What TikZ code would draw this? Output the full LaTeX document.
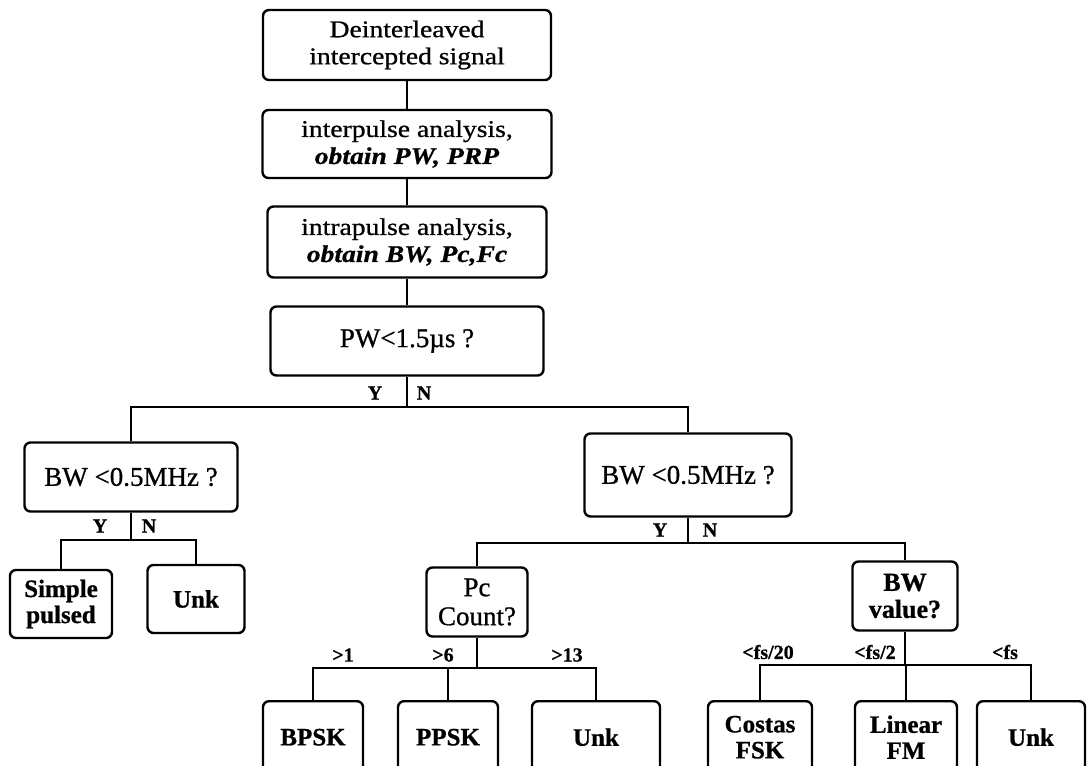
\documentclass[tikz,border=0pt]{standalone}
\usepackage{fontspec}
\setmainfont{Liberation Serif}[FakeBold=0.8]
\newfontfamily\wideserif[FakeStretch=1.15,FakeBold=0.8]{Liberation Serif}

\tikzset{
  box/.style={draw=black, line width=2.4pt, rounded corners=6pt, align=center, inner sep=2pt},
  stepnode/.style={box, font=\wideserif\fontsize{24}{27}\selectfont},
  testnode/.style={box, font=\fontsize{27}{29}\selectfont},
  leafnode/.style={box, font=\bfseries\fontsize{25}{26}\selectfont},
  wire/.style={line width=2.4pt},
  lab/.style={font=\bfseries\fontsize{20}{22}\selectfont, inner sep=0pt},
}

\begin{document}
\begin{tikzpicture}[x=1pt,y=-1pt]
    \clip (0,0) rectangle (1091,765);
    \fill[white] (0,0) rectangle (1091,765);

    % main chain
    \node[stepnode, minimum width=288pt, minimum height=70pt] (sig) at (407,45) {Deinterleaved\\intercepted signal};
    \node[stepnode, minimum width=289pt, minimum height=68pt] (inter) at (407,144) {interpulse analysis,\\\textbf{\textit{obtain PW, PRP}}};
    \node[stepnode, minimum width=279pt, minimum height=71pt] (intra) at (407,242) {intrapulse analysis,\\\textbf{\textit{obtain BW, Pc,Fc}}};
    \node[testnode, minimum width=273pt, minimum height=69pt] (pw) at (407,341) {PW<1.5µs ?};

    % second level
    \node[testnode, minimum width=213pt, minimum height=69pt] (bwl) at (131,477) {BW <0.5MHz ?};
    \node[testnode, minimum width=207pt, minimum height=83pt] (bwr) at (688,475) {BW <0.5MHz ?};

    \node[leafnode, minimum width=102pt, minimum height=68pt] (simple) at (61,604) {Simple\\pulsed};
    \node[leafnode, minimum width=97pt, minimum height=68pt] (unkl) at (196,599) {Unk};
    \node[testnode, minimum width=101pt, minimum height=69pt] (pc) at (477,602) {Pc\\Count?};
    \node[box, font=\bfseries\fontsize{26}{27}\selectfont, minimum width=105pt, minimum height=69pt] (bwv) at (905,596) {BW\\value?};

    % bottom row
    \node[leafnode, anchor=north, minimum width=100pt, minimum height=72pt] (bpsk) at (313,700) {BPSK};
    \node[leafnode, anchor=north, minimum width=100pt, minimum height=72pt] (ppsk) at (448,700) {PPSK};
    \node[leafnode, anchor=north, minimum width=128pt, minimum height=72pt] (unkp) at (596,700) {Unk};
    \node[leafnode, anchor=north, minimum width=104pt, minimum height=72pt] (costas) at (760,700) {Costas\\FSK};
    \node[leafnode, anchor=north, minimum width=102pt, minimum height=72pt] (linfm) at (906,700) {Linear\\FM};
    \node[leafnode, anchor=north, minimum width=108pt, minimum height=72pt] (unkb) at (1031,700) {Unk};

    % connectors
    \draw[wire] (sig.south) -- (inter.north);
    \draw[wire] (inter.south) -- (intra.north);
    \draw[wire] (intra.south) -- (pw.north);

    \coordinate (pwj) at (407,407);
    \draw[wire] (pw.south) -- (pwj) -| (bwl.north);
    \draw[wire] (pwj) -| (bwr.north);

    \coordinate (bwlj) at (131,540);
    \draw[wire] (bwl.south) -- (bwlj) -| (simple.north);
    \draw[wire] (bwlj) -| (unkl.north);

    \coordinate (bwrj) at (688,543);
    \draw[wire] (bwr.south) -- (bwrj) -| (pc.north);
    \draw[wire] (bwrj) -| (bwv.north);

    \coordinate (pcj) at (477,668);
    \draw[wire] (pc.south) -- (pcj) -| (bpsk.north);
    \draw[wire] (pcj) -| (ppsk.north);
    \draw[wire] (pcj) -| (unkp.north);

    \coordinate (bwvj) at (905,665);
    \draw[wire] (bwv.south) -- (bwvj) -| (costas.north);
    \draw[wire] (bwvj) -| (linfm.north);
    \draw[wire] (bwvj) -| (unkb.north);

    % branch labels
    \node[lab] (pwy) at (375,393) {Y};
    \node[lab] (pwn) at (424,393) {N};
    \node[lab] (bwly) at (100,526) {Y};
    \node[lab] (bwln) at (149,526) {N};
    \node[lab] (bwry) at (660,530) {Y};
    \node[lab] (bwrn) at (710,530) {N};
    \node[lab] (gt1) at (343,655) {>1};
    \node[lab] (gt6) at (443,655) {>6};
    \node[lab] (gt13) at (567,655) {>13};
    \node[lab] (ltfa) at (768,652) {<fs/20};
    \node[lab] (ltfb) at (875,652) {<fs/2};
    \node[lab] (ltfc) at (1005,652) {<fs};

\end{tikzpicture}
\end{document}
